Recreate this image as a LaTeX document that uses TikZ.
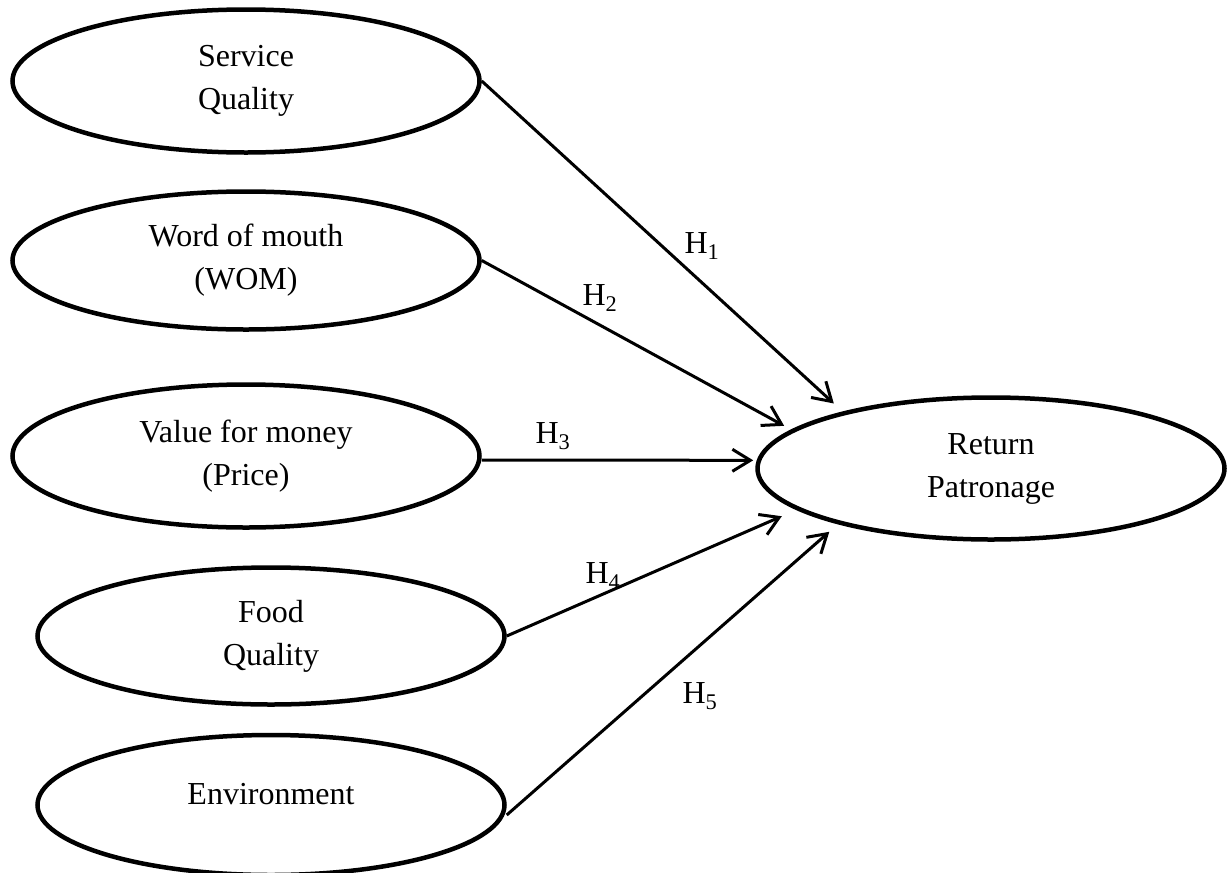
\documentclass[tikz,border=0pt]{standalone}
\usepackage{fontspec}
\setmainfont{Liberation Serif}
\usetikzlibrary{shapes.geometric,arrows.meta}
\begin{document}
\begin{tikzpicture}[x=1pt,y=-1pt,
  construct/.style={ellipse, draw, line width=4.5pt, minimum width=467pt,
    minimum height=142pt, inner sep=0pt, align=center,
    font=\fontsize{32}{43}\selectfont},
  hyparrow/.style={-{Straight Barb[length=18pt,width=22pt]}, line width=3pt},
  hyp/.style={anchor=base, inner sep=0pt, font=\fontsize{32}{43}\selectfont}]
\useasboundingbox (0,0) rectangle (1232,873);

% antecedent constructs
\node[construct, minimum height=143pt] (sq)  at (246,81)    {Service\\Quality};
\node[construct, minimum height=138pt] (wom) at (246,260.5) {Word of mouth\\(WOM)};
\node[construct, minimum height=143pt] (vfm) at (246,456)   {Value for money\\(Price)};
\node[construct, minimum height=137pt] (fq)  at (271,636)   {Food\\Quality};
\node[construct, minimum height=140pt, text height=10pt, text depth=12pt]
  (env) at (271,805) {Environment};

% outcome construct
\node[construct] (ret) at (991,468.5) {Return\\Patronage};

% hypothesised paths
\draw[hyparrow, shorten >=12pt]   (sq.east)  -- (ret.159);
\draw[hyparrow, shorten >=8pt]    (wom.east) -- (ret.169);
\draw[hyparrow, shorten >=3.5pt]  ([yshift=-4pt]vfm.east) -- (ret.178);
\draw[hyparrow, shorten >=16pt]   (fq.east)  -- (ret.192.5);
\draw[hyparrow, shorten >=11.5pt] ([yshift=-10pt]env.east) -- (ret.200.5);

% path labels
\node[hyp] (h1) at (702,253) {H\textsubscript{1}};
\node[hyp] (h2) at (600,305) {H\textsubscript{2}};
\node[hyp] (h3) at (553,443) {H\textsubscript{3}};
\node[hyp] (h4) at (603,583) {H\textsubscript{4}};
\node[hyp] (h5) at (700,703) {H\textsubscript{5}};
\end{tikzpicture}
\end{document}
